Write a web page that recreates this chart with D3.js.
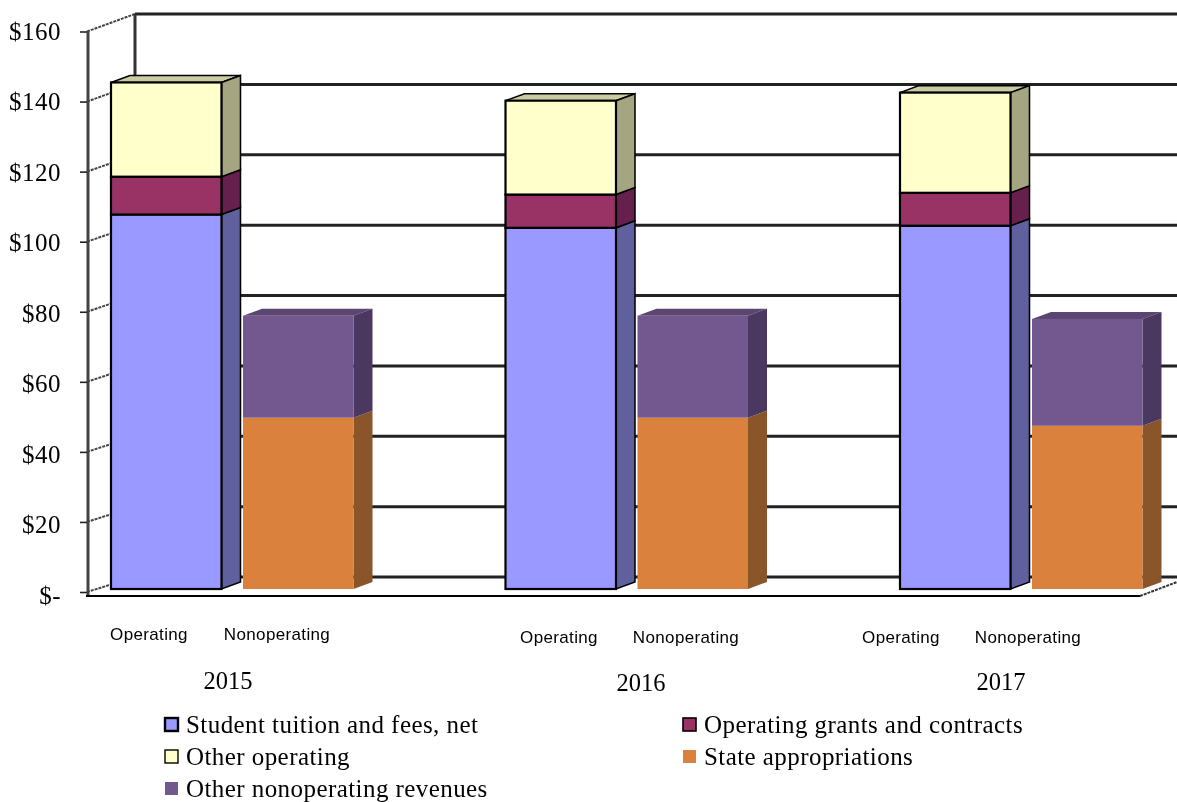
<!DOCTYPE html>
<html>

<head>
    <meta charset="utf-8">
    <title>Revenues by year</title>
    <script src="https://d3js.org/d3.v7.min.js"></script>
    <style>
        html, body { margin: 0; padding: 0; background: #fff; overflow: hidden; }
        svg { display: block; filter: blur(0.45px); }
        .serif { font-family: "Liberation Serif", serif; fill: #000; }
        .sans { font-family: "Liberation Sans", sans-serif; fill: #000; }
    </style>
</head>

<body>
    <div id="chart"></div>

    <script>
        const years = ["2015", "2016", "2017"];
        const groups = ["Operating", "Nonoperating"];
        const yTicks = [0, 20, 40, 60, 80, 100, 120, 140, 160];

        // dollars (millions)
        const tuition = [106.9, 103.1, 103.7];
        const grants = [10.8, 9.5, 9.4];
        const otherOperating = [26.9, 26.8, 28.6];
        const stateApprop = [48.9, 48.9, 46.6];
        const otherNonoperating = [29.1, 29.1, 30.5];

        const seriesNames = ["Student tuition and fees, net", "Operating grants and contracts", "Other operating",
            "State appropriations", "Other nonoperating revenues"];

        const width = 1177, height = 802;
        const depth = 19, rise = 7;   // 3d offset of the bars

        const svg = d3.select("#chart").append("svg")
            .attr("width", width).attr("height", height);

        const y = d3.scaleLinear().domain([0, 160]).range([592, 31.5]);
        const yBack = d3.scaleLinear().domain([0, 160]).range([577, 14]);
        const yBar = d3.scaleLinear().domain([0, 160]).range([589, 28.5]);
        // tick labels drift slightly against the ticks in the source
        const yLabelShift = d3.scaleLinear().domain([0, 160]).range([3, -0.5]);

        const x0 = d3.scaleBand().domain(years).range([87, 87 + 3 * 394.5]);
        const x1 = d3.scaleBand().domain(groups).range([24, 24 + 242.5]).paddingInner(0.163).paddingOuter(0);

        const series = [
            { name: seriesNames[0], group: "Operating", vals: tuition, face: "#9999ff", side: "#60609f", top: "#7a7acc", stroke: "#000" },
            { name: seriesNames[1], group: "Operating", vals: grants, face: "#993366", side: "#66204d", top: "#7a2952", stroke: "#000" },
            { name: seriesNames[2], group: "Operating", vals: otherOperating, face: "#ffffcc", side: "#a5a582", top: "#cccca3", stroke: "#000" },
            { name: seriesNames[3], group: "Nonoperating", vals: stateApprop, face: "#d9813d", side: "#8a5528", top: "#ad6731", stroke: "none" },
            { name: seriesNames[4], group: "Nonoperating", vals: otherNonoperating, face: "#72588e", side: "#4a3860", top: "#5b4672", stroke: "none" }
        ];

        // walls and grid
        const wall = svg.append("g").attr("fill", "none");
        const gridColor = "#222";

        wall.selectAll("line.grid").data(yTicks).join("line")
            .attr("class", "grid")
            .attr("x1", 135).attr("x2", width)
            .attr("y1", d => yBack(d)).attr("y2", d => yBack(d))
            .attr("stroke", gridColor).attr("stroke-width", 3);

        wall.selectAll("line.diag").data(yTicks).join("line")
            .attr("class", "diag")
            .attr("x1", 87).attr("x2", 135)
            .attr("y1", d => y(d)).attr("y2", d => yBack(d))
            .attr("stroke", "#444").attr("stroke-width", 2)
            .attr("stroke-dasharray", "3 1");

        wall.append("line")
            .attr("x1", 135).attr("x2", 135)
            .attr("y1", yBack(160)).attr("y2", yBack(0))
            .attr("stroke", "#333").attr("stroke-width", 3);

        wall.append("line")
            .attr("x1", 88).attr("x2", 88)
            .attr("y1", y(160)).attr("y2", 596)
            .attr("stroke", "#444").attr("stroke-width", 3);

        // floor
        wall.append("line")
            .attr("x1", 86).attr("x2", 1140)
            .attr("y1", 596).attr("y2", 596)
            .attr("stroke", "#000").attr("stroke-width", 2.2);

        wall.append("line")
            .attr("x1", 1140).attr("x2", 1177)
            .attr("y1", 596).attr("y2", 582)
            .attr("stroke", "#333").attr("stroke-width", 2)
            .attr("stroke-dasharray", "3 1");

        // stacked bars
        const barW = x1.bandwidth();

        function drawBlock(g, s, left, v0, v1, isTop) {
            const yT = yBar(v1), yB = yBar(v0);
            const right = left + barW;
            const sw = s.stroke === "none" ? 0 : 2.2;

            if (isTop) {
                g.append("polygon")
                    .attr("points", [[left, yT], [left + depth, yT - rise], [right + depth, yT - rise], [right, yT]].join(" "))
                    .attr("fill", s.top).attr("stroke", s.stroke).attr("stroke-width", sw * 0.7);
            }
            g.append("polygon")
                .attr("points", [[right, yT], [right + depth, yT - rise], [right + depth, yB - rise], [right, yB]].join(" "))
                .attr("fill", s.side).attr("stroke", s.stroke).attr("stroke-width", sw * 0.7);
            g.append("rect")
                .attr("x", left).attr("y", yT)
                .attr("width", barW).attr("height", yB - yT)
                .attr("fill", s.face).attr("stroke", s.stroke).attr("stroke-width", sw);
        }

        const bars = svg.append("g");
        years.forEach((yr, i) => {
            groups.forEach(grp => {
                const left = x0(yr) + x1(grp);
                const g = bars.append("g");
                const stack = series.filter(s => s.group === grp);
                let base = 0;
                stack.forEach((s, k) => {
                    drawBlock(g, s, left, base, base + s.vals[i], k === stack.length - 1);
                    base += s.vals[i];
                });
            });
        });

        // value axis
        const axis = svg.append("g")
            .attr("transform", "translate(87,0)")
            .call(d3.axisLeft(y).tickValues(yTicks).tickSize(7).tickPadding(19)
                .tickFormat(d => d === 0 ? "$-" : "$" + d));
        axis.select(".domain").remove();
        axis.selectAll("line").attr("stroke", "#222").attr("stroke-width", 1.6);
        axis.selectAll("text")
            .attr("class", "serif")
            .attr("font-size", 25)
            .attr("letter-spacing", 0.5)
            .attr("y", d => yLabelShift(d))
            .attr("dy", "0.32em");

        // group labels and year labels sit a little unevenly in the source
        const groupLabelX = [[149, 277], [559, 686], [901, 1028]];
        const groupLabelY = [640, 643, 643];
        const yearLabelX = [228, 641, 1001];
        const yearLabelY = [689, 691, 690];

        years.forEach((yr, i) => {
            groups.forEach((grp, j) => {
                svg.append("text").attr("class", "sans")
                    .attr("x", groupLabelX[i][j]).attr("y", groupLabelY[i])
                    .attr("text-anchor", "middle").attr("font-size", 17)
                    .attr("letter-spacing", 0.35)
                    .text(grp);
            });
            svg.append("text").attr("class", "serif")
                .attr("x", yearLabelX[i]).attr("y", yearLabelY[i])
                .attr("text-anchor", "middle").attr("font-size", 24.5)
                .text(yr);
        });

        // legend
        const legendCols = [165, 683];
        const legendRows = [725, 757, 789];
        const legendStroke = [2.4, 1.6, 1.4, 0, 0];

        series.forEach((s, i) => {
            const col = legendCols[i % 2], row = legendRows[Math.floor(i / 2)];
            svg.append("rect")
                .attr("x", col).attr("y", row - 7)
                .attr("width", 13).attr("height", 13)
                .attr("fill", s.face)
                .attr("stroke", legendStroke[i] ? "#000" : "none")
                .attr("stroke-width", legendStroke[i]);
            svg.append("text").attr("class", "serif")
                .attr("x", col + 21).attr("y", row + 8)
                .attr("font-size", 25)
                .attr("letter-spacing", 0.43)
                .text(s.name);
        });
    </script>
</body>

</html>
